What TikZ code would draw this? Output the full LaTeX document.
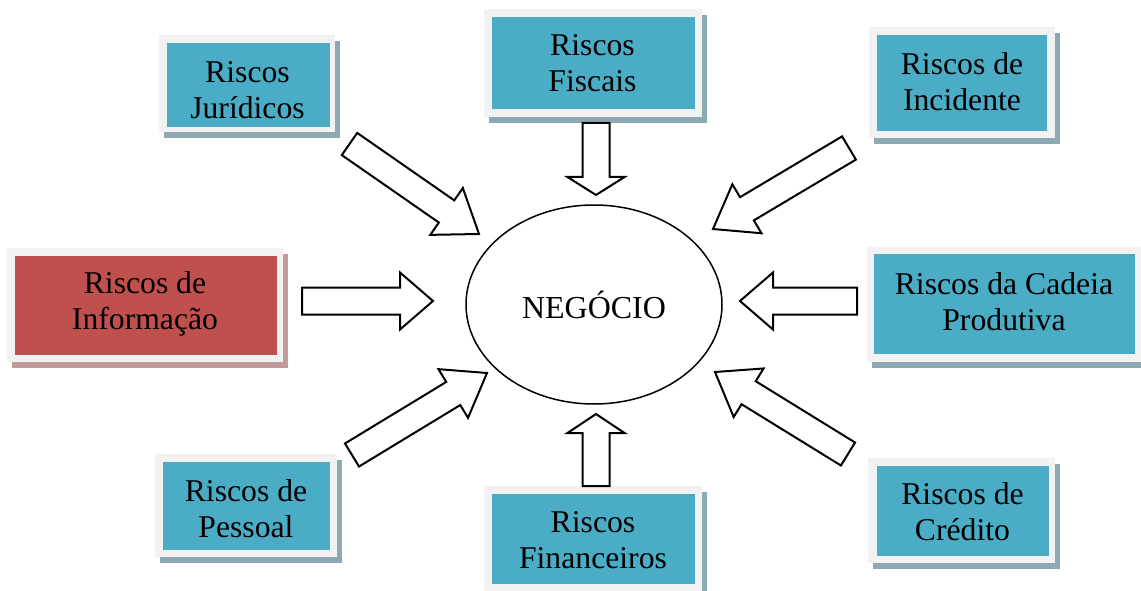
\documentclass[tikz,border=0pt]{standalone}
\usepackage{fontspec}
\setmainfont{Liberation Serif}
\usetikzlibrary{calc,shapes.geometric}
\definecolor{teal}{HTML}{4BACC6}
\definecolor{redbox}{HTML}{C0504D}
\definecolor{framegray}{HTML}{F2F2F2}
\definecolor{shadowblue}{HTML}{8DA9B4}
\definecolor{shadowred}{HTML}{C29A99}
\tikzset{
  frameshape/.style={fill=framegray},
  shadowshape/.style={fill=shadowblue},
  shadowredshape/.style={fill=shadowred},
  innerblue/.style={fill=teal},
  innerred/.style={fill=redbox},
  label text/.style={align=center, inner sep=0pt, font=\fontsize{31.7}{36}\selectfont},
  blockarr/.style={draw=black, fill=white, line width=2pt, line join=miter},
}
\newcommand{\riskframe}[5]{% frame c1, frame c2, inner c1, inner c2, kind
  \fill[#5shadow] ($(#1)+(5,6)$) rectangle ($(#2)+(5,6)$);
  \fill[frameshape] (#1) rectangle (#2);
  \fill[#5inner] (#3) rectangle (#4);
}
\tikzset{
  blueshadow/.style={shadowshape}, blueinner/.style={innerblue},
  redshadow/.style={shadowredshape}, redinner/.style={innerred},
}
\newcommand{\blockarrow}[3]{% tail, tip, head length (pt)
  \coordinate (hb) at ($(#2)!#3pt!(#1)$);
  \draw[blockarr] ($(#1)!13.5pt!90:(#2)$) -- ($(hb)!13.5pt!-90:(#1)$) -- ($(hb)!28.5pt!-90:(#1)$)
    -- (#2) -- ($(hb)!28.5pt!90:(#1)$) -- ($(hb)!13.5pt!90:(#1)$) -- ($(#1)!13.5pt!-90:(#2)$) -- cycle;
}
\begin{document}
\begin{tikzpicture}[x=1pt,y=-1pt]
\clip (0,0) rectangle (1141,591);
\fill[white] (0,0) rectangle (1141,591);

% boxes
\riskframe{159,35}{335,132}{167,43}{330,127}{blue}
\node[label text] (jur) at (247.5,90) {Riscos\\Jurídicos};

\riskframe{484,9}{702,117}{492,17}{695,109}{blue}
\node[label text] (fis) at (592.5,63.5) {Riscos\\Fiscais};

\riskframe{869,27}{1055,138}{877,35}{1047,131}{blue}
\node[label text] (inc) at (962,82) {Riscos de\\Incidente};

\riskframe{7,248}{283,362}{15,256}{277,355}{red}
\node[label text] (inf) at (145,303.5) {Riscos de\\Informação};

\riskframe{867,247}{1150,362}{874,254}{1135,354}{blue}
\node[label text] (cad) at (1004,301.5) {Riscos da Cadeia\\Produtiva};

\riskframe{155,454}{337,557}{163,462}{330,550}{blue}
\node[label text] (pes) at (246,508.5) {Riscos de\\Pessoal};

\riskframe{484,486}{702,600}{492,494}{695,584}{blue}
\node[label text] (fin) at (593,540.5) {Riscos\\Financeiros};

\riskframe{868,458}{1055,563}{877,466}{1049,556}{blue}
\node[label text] (cre) at (962.5,511.5) {Riscos de\\Crédito};

% central ellipse
\node[ellipse, draw, line width=1.5pt, minimum width=256, minimum height=199,
      inner sep=0pt, font=\fontsize{32}{36}\selectfont] (neg) at (594,304.5) {NEGÓCIO};

% arrow ends
\coordinate (jurT) at (349.5,144); \coordinate (jurH) at (479,234);
\coordinate (incT) at (849,148);   \coordinate (incH) at (713,229);
\coordinate (infT) at (302,301);   \coordinate (infH) at (433,301);
\coordinate (cadT) at (857,301);   \coordinate (cadH) at (740,301);
\coordinate (fisT) at (596,123);   \coordinate (fisH) at (596,195);
\coordinate (finT) at (596,486);   \coordinate (finH) at (596,414);
\coordinate (pesT) at (352,455);   \coordinate (pesH) at (487,373);
\coordinate (creT) at (848,454);   \coordinate (creH) at (715,372);

\blockarrow{jurT}{jurH}{39.5}
\blockarrow{incT}{incH}{39.5}
\blockarrow{infT}{infH}{33}
\blockarrow{cadT}{cadH}{33}
\blockarrow{fisT}{fisH}{18}
\blockarrow{finT}{finH}{19}
\blockarrow{pesT}{pesH}{39.5}
\blockarrow{creT}{creH}{39.5}
\end{tikzpicture}
\end{document}
